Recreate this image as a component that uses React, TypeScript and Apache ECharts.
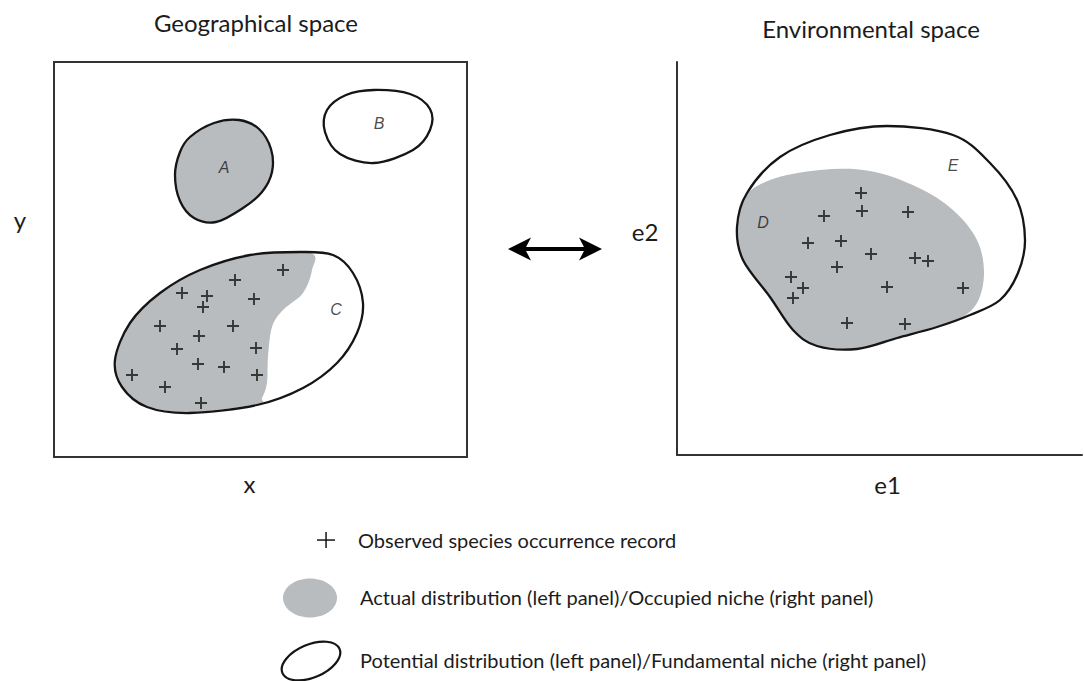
import React, { useEffect, useRef } from "react";
import * as echarts from "echarts";

// ---------- data (left panel: geographical space, x 0..413, y 0..395) ----------
const leftRecords: number[][] = [
  [229, 187], [181, 177], [128, 164], [153, 161], [200, 158], [149, 150],
  [106, 131], [179, 131], [145, 121], [123, 108], [202, 109], [144, 93],
  [170, 90], [78, 82], [203, 82], [111, 70], [147, 54],
];
const regionA: number[][] = [
  [136, 320], [160, 334], [185, 337], [205, 328], [217, 308], [218, 285],
  [208, 265], [189, 249], [162, 235], [140, 239], [126, 256], [121, 282],
  [126, 305],
];
const regionB: number[][] = [
  [273, 347], [292, 362], [320, 367], [356, 363], [376, 348], [376, 327],
  [359, 307], [320, 294], [286, 303], [271, 325],
];
const regionC: number[][] = [
  [61, 97], [76, 134], [106, 164], [146, 187], [196, 202], [246, 205],
  [279, 202], [299, 184], [309, 154], [303, 124], [283, 94], [249, 69],
  [203, 52], [136, 44], [93, 50], [68, 70],
];
const regionCActual: number[][] = [
  [203, 53], [136, 45], [93, 51], [68, 70], [62, 97], [76, 134], [106, 164],
  [146, 187], [196, 202], [256, 204], [258, 187], [249, 164], [229, 147],
  [218, 130], [214, 100], [213, 74], [208, 59],
];
const leftLabels: (number | string)[][] = [
  [170, 290, "A"], [325, 334, "B"], [282, 148, "C"],
];

// ---------- data (right panel: environmental space, e1 0..405, e2 0..393) ----------
const rightRecords: number[][] = [
  [184, 262], [185, 244], [147, 239], [231, 243], [131, 212], [164, 214],
  [194, 201], [238, 197], [251, 194], [160, 188], [114, 178], [126, 167],
  [116, 157], [210, 168], [286, 167], [170, 132], [228, 131],
];
const nicheE: number[][] = [
  [60, 228], [70, 262], [103, 298], [153, 320], [210, 329], [276, 320],
  [313, 292], [340, 255], [348, 215], [341, 182], [323, 155], [293, 140],
  [260, 128], [220, 117], [180, 106], [140, 109], [116, 125], [93, 158],
  [66, 195],
];
const nicheD: number[][] = [
  [65, 255], [93, 275], [143, 285], [193, 284], [240, 268], [276, 245],
  [300, 215], [307, 182], [300, 152], [280, 135], [246, 125], [193, 108],
  [143, 108], [116, 125], [93, 158], [66, 195], [61, 222],
];
const rightLabels: (number | string)[][] = [
  [86, 233, "D"], [276, 290, "E"],
];

const titles = ["Geographical space", "Environmental space"];
const axisNames = { x: "x", y: "y", e1: "e1", e2: "e2" };
const legendTexts = [
  "Observed species occurrence record",
  "Actual distribution (left panel)/Occupied niche (right panel)",
  "Potential distribution (left panel)/Fundamental niche (right panel)",
];

const GRAY = "#b9bcbf";
const INK = "#151515";
const TEXT = "#1c1c1c";
const FONT = "Lato, 'Open Sans', sans-serif";
const PLUS = "path://M4.2 0H5.8V4.2H10V5.8H5.8V10H4.2V5.8H0V4.2H4.2Z";

// closed Catmull-Rom curve through the projected points
function closedCurve(pts: number[][]): string {
  const n = pts.length;
  let d = `M${pts[0][0]},${pts[0][1]}`;
  for (let i = 0; i < n; i++) {
    const p0 = pts[(i - 1 + n) % n];
    const p1 = pts[i];
    const p2 = pts[(i + 1) % n];
    const p3 = pts[(i + 2) % n];
    const c1x = p1[0] + (p2[0] - p0[0]) / 6;
    const c1y = p1[1] + (p2[1] - p0[1]) / 6;
    const c2x = p2[0] - (p3[0] - p1[0]) / 6;
    const c2y = p2[1] - (p3[1] - p1[1]) / 6;
    d += ` C${c1x},${c1y} ${c2x},${c2y} ${p2[0]},${p2[1]}`;
  }
  return d + " Z";
}

function blob(pts: number[][], idx: number, fill: string, stroke: string | null, z: number) {
  return {
    type: "custom",
    xAxisIndex: idx,
    yAxisIndex: idx,
    data: pts,
    z,
    silent: true,
    renderItem: (params: any, api: any) => {
      if (params.dataIndex !== 0) return null;
      const points = pts.map((p) => api.coord(p));
      return {
        type: "path",
        shape: { pathData: closedCurve(points) },
        style: {
          fill,
          stroke: stroke || "none",
          lineWidth: stroke ? 2.3 : 0,
        },
      };
    },
  };
}

function records(pts: number[][], idx: number) {
  return {
    type: "scatter",
    xAxisIndex: idx,
    yAxisIndex: idx,
    data: pts,
    symbol: PLUS,
    symbolSize: 12,
    itemStyle: { color: INK },
    z: 5,
    silent: true,
  };
}

function labels(pts: (number | string)[][], idx: number) {
  return {
    type: "scatter",
    xAxisIndex: idx,
    yAxisIndex: idx,
    data: pts,
    symbolSize: 1,
    itemStyle: { color: "rgba(0,0,0,0)" },
    z: 6,
    silent: true,
    label: {
      show: true,
      position: "inside",
      formatter: (p: any) => p.data[2],
      fontStyle: "italic",
      fontSize: 16,
      fontFamily: "'Liberation Sans', Arial, sans-serif",
      color: "#1a1a1a",
    },
  };
}

export default function App() {
  const ref = useRef<HTMLDivElement>(null);
  useEffect(() => {
    if (!ref.current) return;
    const chart = echarts.init(ref.current, undefined, { renderer: "svg" });
    const axisNameStyle = { fontSize: 24, fontFamily: FONT, color: TEXT };
    const hidden = {
      axisTick: { show: false },
      axisLabel: { show: false },
      splitLine: { show: false },
    };
    const option: any = {
      animation: false,
      backgroundColor: "#ffffff",
      grid: [
        {
          left: 54, top: 62, width: 413, height: 395,
          show: true, borderColor: "#333333", borderWidth: 2,
          backgroundColor: "transparent",
        },
        { left: 677, top: 62, width: 405, height: 393 },
      ],
      xAxis: [
        {
          type: "value", gridIndex: 0, min: 0, max: 413, ...hidden,
          axisLine: { show: false },
          name: axisNames.x, nameLocation: "middle", nameGap: 14,
          nameTextStyle: { ...axisNameStyle, padding: [0, 22, 0, 0] },
        },
        {
          type: "value", gridIndex: 1, min: 0, max: 405, ...hidden,
          axisLine: { show: true, onZero: false, lineStyle: { color: "#333333", width: 2 } },
          name: axisNames.e1, nameLocation: "middle", nameGap: 17,
          nameTextStyle: { ...axisNameStyle, padding: [0, 0, 0, 16] },
        },
      ],
      yAxis: [
        {
          type: "value", gridIndex: 0, min: 0, max: 395, ...hidden,
          axisLine: { show: false },
        },
        {
          type: "value", gridIndex: 1, min: 0, max: 393, ...hidden,
          axisLine: { show: true, onZero: false, lineStyle: { color: "#333333", width: 2 } },
        },
      ],
      series: [
        blob(regionCActual, 0, GRAY, null, 1),
        blob(regionC, 0, "none", INK, 2),
        blob(regionA, 0, GRAY, INK, 2),
        blob(regionB, 0, "#ffffff", INK, 2),
        records(leftRecords, 0),
        labels(leftLabels, 0),
        blob(nicheD, 1, GRAY, null, 1),
        blob(nicheE, 1, "none", INK, 2),
        records(rightRecords, 1),
        labels(rightLabels, 1),
      ],
      graphic: [
        {
          type: "text", x: 256, y: 22,
          style: { text: titles[0], fontSize: 24, fontFamily: FONT, fill: TEXT, textAlign: "center", textVerticalAlign: "middle" },
        },
        {
          type: "text", x: 871, y: 28,
          style: { text: titles[1], fontSize: 24, fontFamily: FONT, fill: TEXT, textAlign: "center", textVerticalAlign: "middle" },
        },
        // vertical axis titles
        {
          type: "text", x: 20, y: 219,
          style: { text: axisNames.y, fontSize: 24, fontFamily: FONT, fill: TEXT, textAlign: "center", textVerticalAlign: "middle" },
        },
        {
          type: "text", x: 645, y: 231,
          style: { text: axisNames.e2, fontSize: 24, fontFamily: FONT, fill: TEXT, textAlign: "center", textVerticalAlign: "middle" },
        },
        // double-headed arrow
        { type: "rect", shape: { x: 522, y: 247, width: 66, height: 4 }, style: { fill: "#000" } },
        { type: "polygon", shape: { points: [[508, 249], [531, 237.5], [525, 249], [531, 260.5]] }, style: { fill: "#000" } },
        { type: "polygon", shape: { points: [[602, 249], [579, 237.5], [585, 249], [579, 260.5]] }, style: { fill: "#000" } },
        // legend
        { type: "rect", shape: { x: 317, y: 539.3, width: 18, height: 1.5 }, style: { fill: INK } },
        { type: "rect", shape: { x: 325.3, y: 532, width: 1.5, height: 16 }, style: { fill: INK } },
        {
          type: "text", x: 358, y: 540,
          style: { text: legendTexts[0], fontSize: 20, fontFamily: FONT, fill: TEXT, textVerticalAlign: "middle" },
        },
        { type: "ellipse", shape: { cx: 310, cy: 598, rx: 27, ry: 19.5 }, style: { fill: GRAY } },
        {
          type: "text", x: 360, y: 597,
          style: { text: legendTexts[1], fontSize: 20, fontFamily: FONT, fill: TEXT, textVerticalAlign: "middle" },
        },
        {
          type: "ellipse", x: 311, y: 661, rotation: 0.4,
          shape: { cx: 0, cy: 0, rx: 31, ry: 16.5 },
          style: { fill: "none", stroke: INK, lineWidth: 2.2 },
        },
        {
          type: "text", x: 360, y: 660,
          style: { text: legendTexts[2], fontSize: 20, fontFamily: FONT, fill: TEXT, textVerticalAlign: "middle" },
        },
      ],
    };
    chart.setOption(option);
    return () => chart.dispose();
  }, []);
  return (
    <div
      ref={ref}
      style={{ position: "absolute", left: 0, top: 0, width: 1084, height: 681, background: "#fff" }}
    />
  );
}
